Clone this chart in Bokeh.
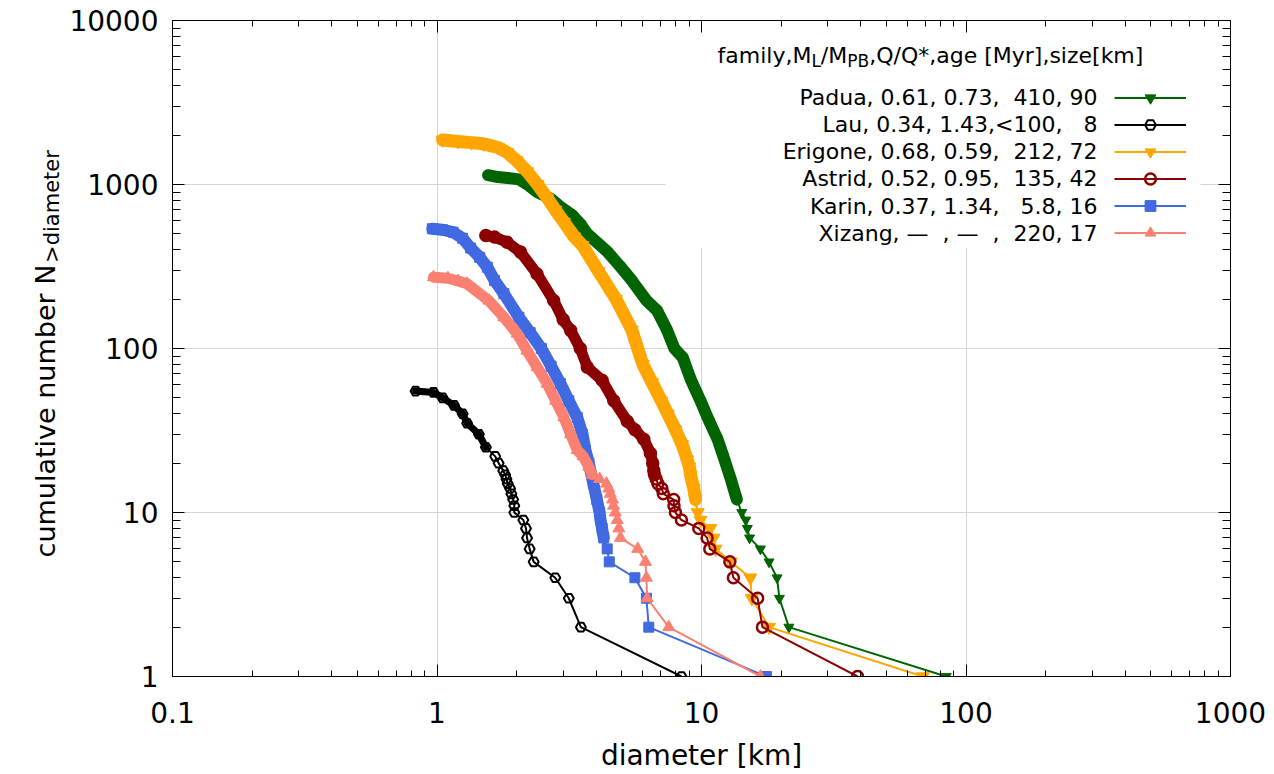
import math
from bokeh.plotting import figure
from bokeh.layouts import row
from bokeh.models import (LogAxis, FixedTicker, CustomJSTickFormatter, Label,
                          BoxAnnotation, Legend, LegendItem, Range1d)
from bokeh.embed import file_html
from bokeh.resources import INLINE
from bokeh.core.properties import value

FONT = "DejaVu Sans"

# ---------------- data ----------------
x_ticks = [0.1, 1, 10, 100, 1000]
x_tick_labels = ["0.1", "1", "10", "100", "1000"]
y_ticks = [1, 10, 100, 1000, 10000]
y_tick_labels = ["1", "10", "100", "1000", "10000"]

padua_d = [1.56, 1.70, 1.85, 2.04, 2.20, 2.39, 2.69, 2.93, 3.25, 3.48, 3.70, 4.05, 4.40,
           4.90, 5.45, 6.20, 6.80, 7.40, 7.90, 8.50, 9.10, 9.91, 10.7, 11.5, 12.1, 12.9,
           13.6, 14.2, 14.7, 14.9, 15.2, 16.7, 18.0, 19.3, 19.7, 21.4, 84.2]
padua_n = [1140, 1110, 1095, 1075, 1000, 900, 820, 730, 650, 576, 500, 440, 390,
           320, 260, 196, 170, 130, 100, 88, 65, 48, 36, 28, 22, 16,
           12, 10, 9, 8, 7, 6, 5, 4, 3, 2, 1]

lau_d = [0.83, 0.97, 1.05, 1.16, 1.25, 1.30, 1.44, 1.53, 1.66, 1.71, 1.78, 1.81, 1.83,
         1.85, 1.89, 1.91, 1.94, 1.96, 1.96, 2.12, 2.17, 2.19, 2.24, 2.32, 2.80, 3.15,
         3.50, 8.40]
lau_n = [55, 54, 50, 45, 40, 35, 30, 25, 22, 20, 18, 17, 16,
         15, 14, 13, 12, 11, 10, 9, 8, 7, 6, 5, 4, 3,
         2, 1]

erigone_d = [1.05, 1.20, 1.35, 1.50, 1.70, 1.84, 2.00, 2.19, 2.40, 2.61, 2.80, 3.02, 3.30,
             3.55, 4.08, 4.75, 5.45, 6.00, 6.50, 7.05, 7.45, 7.97, 8.45, 8.83, 9.00, 9.09,
             9.35, 9.49, 9.68, 9.91, 10.8, 11.1, 11.3, 12.9, 15.3, 15.5, 18.0, 68.7]
erigone_n = [1870, 1830, 1800, 1770, 1680, 1570, 1400, 1200, 1000, 830, 700, 590, 480,
             425, 295, 200, 130, 80, 62, 48, 40, 32, 26, 21, 19, 17,
             14, 12, 10, 9, 8, 7, 6, 5, 4, 3, 2, 1]

astrid_d = [1.53, 1.65, 1.84, 2.07, 2.39, 2.76, 3.00, 3.20, 3.48, 3.70, 4.21, 4.66, 5.24,
            5.60, 6.05, 6.41, 6.54, 6.60, 6.64, 6.74, 6.84, 7.08, 7.17, 7.85, 7.87, 7.97,
            8.40, 9.77, 10.5, 10.75, 12.8, 13.2, 16.3, 17.0, 38.9]
astrid_n = [489, 478, 445, 387, 285, 196, 150, 129, 100, 77, 64, 48, 36,
            32, 28, 23, 20, 18, 17, 16, 15, 14, 13, 12, 11, 10,
            9, 8, 7, 6, 5, 4, 3, 2, 1]

karin_d = [0.96, 1.05, 1.15, 1.25, 1.34, 1.45, 1.55, 1.65, 1.79, 2.04, 2.25, 2.48, 2.70,
           2.93, 3.15, 3.39, 3.55, 3.64, 3.75, 3.90, 4.02, 4.12, 4.15, 4.21, 4.27, 4.40,
           4.48, 5.60, 6.19, 6.32, 17.6]
karin_n = [537, 530, 512, 470, 410, 360, 313, 260, 216, 155, 125, 100, 78,
           61, 48, 38, 30, 24, 20, 15, 12, 10, 9, 8, 7, 6,
           5, 4, 3, 2, 1]

xizang_d = [0.97, 1.10, 1.20, 1.30, 1.57, 1.79, 2.01, 2.19, 2.39, 2.61, 2.81, 3.02, 3.20,
            3.39, 3.57, 3.75, 3.86, 4.12, 4.37, 4.46, 4.52, 4.61, 4.65, 4.72, 4.80, 4.87,
            4.94, 5.74, 6.14, 6.19, 6.23, 7.52, 16.7]
xizang_n = [272, 268, 258, 248, 196, 155, 123, 97, 77, 61, 48, 38, 30,
            24, 22, 19, 17, 16, 15, 14, 13, 12, 11, 10, 9, 8,
            7, 6, 5, 4, 3, 2, 1]

legend_labels = [
    "Padua, 0.61, 0.73,  410, 90",
    "Lau, 0.34, 1.43,<100,   8",
    "Erigone, 0.68, 0.59,  212, 72",
    "Astrid, 0.52, 0.95,  135, 42",
    "Karin, 0.37, 1.34,   5.8, 16",
    "Xizang, \u2014  , \u2014  ,  220, 17",
]

# ---------------- styles ----------------
styles = [
    dict(d=padua_d, n=padua_n, color="#006400", marker="inverted_triangle", size=10, fill="#006400", lw=1, band=12, dense=12),
    dict(d=lau_d, n=lau_n, color="#000000", marker="hex", size=10, fill=None, lw=2, band=7, dense=25),
    dict(d=erigone_d, n=erigone_n, color="#FFA500", marker="inverted_triangle", size=13, fill="#FFA500", lw=1, band=13, dense=12),
    dict(d=astrid_d, n=astrid_n, color="#8B0000", marker="circle", size=11, fill=None, lw=2.5, band=11, dense=17),
    dict(d=karin_d, n=karin_n, color="#4169E1", marker="square", size=10, fill="#4169E1", lw=1, band=12, dense=7),
    dict(d=xizang_d, n=xizang_n, color="#FA8072", marker="triangle", size=12, fill="#FA8072", lw=1, band=11, dense=17),
]

def keep_spaces(s):
    out, prev = [], ""
    for ch in s:
        out.append("\u00a0" if (ch == " " and prev == " ") else ch)
        prev = ch
    return "".join(out)

# ---------------- layout (window pixels) ----------------
TOTAL_W, TOTAL_H = 1274, 774
LAB_W = 66                      # narrow column that carries the rotated y label
FL, FR, FT, FB = 172.0, 1230.0, 20.0, 676.0   # frame in window pixels

def sxd(sx):
    return 10 ** (-1 + 4 * (sx - FL) / (FR - FL))
def syd(sy):
    return 10 ** (4 * (FB - sy) / (FB - FT))

p = figure(width=TOTAL_W - LAB_W, height=TOTAL_H, x_axis_type="log", y_axis_type="log",
           x_range=Range1d(0.1, 1000), y_range=Range1d(1, 10000),
           output_backend="svg", toolbar_location=None,
           min_border_left=int(FL) - LAB_W, min_border_right=TOTAL_W - int(FR),
           min_border_top=int(FT), min_border_bottom=TOTAL_H - int(FB))
p.outline_line_color = "black"
p.outline_line_width = 1
p.background_fill_color = "white"
p.border_fill_color = "white"

x_minor = [m * 10 ** e for e in range(-1, 3) for m in range(2, 10)]
y_minor = [m * 10 ** e for e in range(0, 4) for m in range(2, 10)]
xticker = FixedTicker(ticks=x_ticks, minor_ticks=x_minor)
yticker = FixedTicker(ticks=y_ticks, minor_ticks=y_minor)

JS = "const i = tv.indexOf(tick); return i >= 0 ? tl[i] : String(tick);"
xfmt = CustomJSTickFormatter(args=dict(tv=x_ticks, tl=x_tick_labels), code=JS)
yfmt = CustomJSTickFormatter(args=dict(tv=y_ticks, tl=y_tick_labels), code=JS)
blank = CustomJSTickFormatter(code="return '';")

def style_axis(ax, major, minor):
    ax.major_tick_in = major
    ax.major_tick_out = 0
    ax.minor_tick_in = minor
    ax.minor_tick_out = 0
    ax.axis_line_color = "black"
    ax.major_tick_line_color = "black"
    ax.minor_tick_line_color = "black"
    ax.major_label_text_font = FONT
    ax.major_label_text_font_size = "28px"
    ax.major_label_text_color = "black"

bx = p.xaxis[0]
bx.ticker = xticker
bx.formatter = xfmt
style_axis(bx, 12, 6)
bx.major_label_standoff = 25
bx.axis_label = "diameter [km]"
bx.axis_label_text_font = FONT
bx.axis_label_text_font_size = "28px"
bx.axis_label_text_font_style = "normal"
bx.axis_label_text_color = "black"
bx.axis_label_standoff = 13

ly = p.yaxis[0]
ly.ticker = yticker
ly.formatter = yfmt
style_axis(ly, 12, 8)
ly.major_label_standoff = 14

top = LogAxis(ticker=xticker, formatter=blank)
style_axis(top, 12, 6)
right = LogAxis(ticker=yticker, formatter=blank)
style_axis(right, 12, 8)
p.add_layout(top, "above")
p.add_layout(right, "right")

p.xgrid.ticker = FixedTicker(ticks=x_ticks)
p.ygrid.ticker = FixedTicker(ticks=y_ticks)
for g in (p.xgrid[0], p.ygrid[0]):
    g.grid_line_color = "#d4d4d4"
    g.grid_line_width = 1

# white key box that hides the grid behind the legend
key_box = BoxAnnotation(left=sxd(665), right=sxd(1200), bottom=syd(248),
                        fill_color="white", fill_alpha=1.0, line_color=None, level="underlay")
p.add_layout(key_box)

items = []
for st in styles:
    d, n = st["d"], st["n"]
    dd = [x for x, y in zip(d, n) if y >= st["dense"]]
    dn = [y for y in n if y >= st["dense"]]
    thin = p.line(d, n, line_color=st["color"], line_width=2)
    p.line(dd, dn, line_color=st["color"], line_width=st["band"], line_join="round", line_cap="round")
    sc = p.scatter(d, n, marker=st["marker"], size=st["size"], fill_color=st["fill"],
                   line_color=st["color"], line_width=st["lw"])
    items.append(LegendItem(label=value(" "), renderers=[thin, sc]))

row_y = [96.7, 124.0, 151.2, 178.4, 205.6, 232.8]
legend = Legend(items=items, location=(1114 - FL, FB - (row_y[0] - 13.6) - 6 * 27.2),
                glyph_width=72, glyph_height=27, label_height=27, label_width=0,
                label_standoff=0, spacing=0, padding=0, margin=0,
                border_line_color=None, background_fill_alpha=0,
                label_text_font_size="6px")
p.add_layout(legend)

for lab_text, ry in zip(legend_labels, row_y):
    p.add_layout(Label(x=sxd(1097), y=syd(ry), text=keep_spaces(lab_text), text_align="right",
                       text_baseline="middle", text_font=FONT, text_font_size="22px",
                       text_color="black"))

# key title with subscripts
tx, tyb = sxd(717), syd(55)
parts = [("family,M", 22, 0), ("L", 17, -5), ("/M", 22, 0), ("PB", 17, -5),
         (",Q/Q*,age [Myr],size[km]", 22, 0)]
widths = [4.268 * 22, 0.557 * 17, 1.2 * 22, 1.289 * 17, 0]
off = 0.0
for (txt, fs, dy), w in zip(parts, widths):
    p.add_layout(Label(x=tx, y=tyb, x_offset=off, y_offset=dy, text=txt, text_align="left",
                       text_baseline="alphabetic", text_font=FONT,
                       text_font_size=f"{fs}px", text_color="black"))
    off += w

# ---------------- y label column (coordinates = window pixels) ----------------
lab = figure(width=LAB_W, height=TOTAL_H, x_range=Range1d(0, LAB_W), y_range=Range1d(TOTAL_H, 0),
             output_backend="svg", toolbar_location=None, min_border=0,
             x_axis_location=None, y_axis_location=None)
lab.outline_line_color = None
lab.grid.visible = False
lab.background_fill_color = "white"
lab.border_fill_color = "white"
lab.add_layout(Label(x=45, y=288, text="cumulative number N", angle=math.pi / 2,
                     text_align="right", text_baseline="alphabetic", text_font=FONT,
                     text_font_size="27px", text_color="black"))
lab.add_layout(Label(x=51, y=286, text=">diameter", angle=math.pi / 2,
                     text_align="left", text_baseline="alphabetic", text_font=FONT,
                     text_font_size="21px", text_color="black"))

layout = row(lab, p, spacing=0)
open("out.html", "w").write(file_html(layout, INLINE))
